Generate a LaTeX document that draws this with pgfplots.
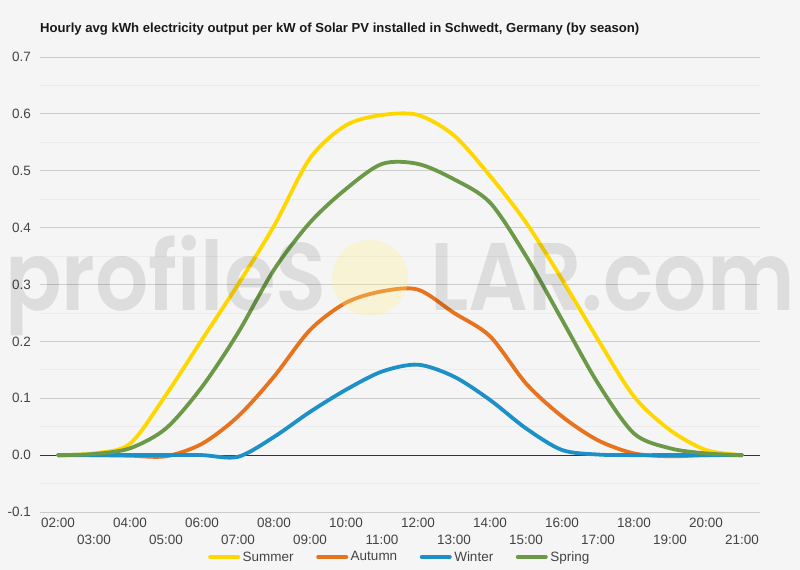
\documentclass[border=0pt]{standalone}
\usepackage{pgfplots}
\pgfplotsset{compat=1.18}
\usepackage{pgfplotstable}
\usepackage{fontspec}
\setmainfont{Liberation Sans}
\newfontfamily\wmfont{Poppins}[UprightFont=* SemiBold, FakeStretch=0.87]
\definecolor{bgc}{HTML}{F5F5F5}
\definecolor{summer}{HTML}{FFD700}
\definecolor{autumn}{HTML}{E8731E}
\definecolor{winter}{HTML}{1E90C8}
\definecolor{spring}{HTML}{6B9948}
\definecolor{txt}{HTML}{444444}
\definecolor{sun}{HTML}{FFF08A}

\pgfplotstableread{
hour summer autumn winter spring
2  0.000  0.000  0.000  0.000
3  0.003  0.000  0.000  0.002
4  0.020 -0.001  0.000  0.012
5  0.106 -0.002  0.000  0.047
6  0.203  0.020  0.000  0.120
7  0.300  0.068 -0.003  0.215
8  0.403  0.138  0.032  0.326
9  0.522  0.220  0.076  0.409
10 0.580  0.268  0.115  0.468
11 0.598  0.288  0.147  0.512
12 0.598  0.291  0.159  0.512
13 0.562  0.250  0.138  0.485
14 0.491  0.209  0.097  0.444
15 0.409  0.126  0.047  0.350
16 0.309  0.068  0.009  0.238
17 0.203  0.026  0.001  0.126
18 0.103  0.003  0.000  0.038
19 0.044 -0.002  0.000  0.012
20 0.009  0.000  0.000  0.003
21 0.000  0.000  0.000  0.000
}\datatable

\begin{document}
\begin{tikzpicture}[x=1bp,y=1bp]
\fill[bgc] (0,0) rectangle (800,570);
\node[anchor=base west, inner sep=0, text=black!90] at (40,537)
  {\fontsize{13.1bp}{16bp}\selectfont\bfseries Hourly avg kWh electricity output per kW of Solar PV installed in Schwedt, Germany (by season)};
\begin{axis}[
  at={(40bp,58bp)}, anchor=south west,
  width=720bp, height=455bp, scale only axis,
  xmin=1.5, xmax=21.5, ymin=-0.1, ymax=0.7,
  axis line style={draw=none},
  major tick length=0pt, minor tick length=0pt,
  tick style={draw=none},
  ytick={-0.1,0.1,0.2,0.3,0.4,0.5,0.6,0.7},
  yticklabels={-0.1,0.1,0.2,0.3,0.4,0.5,0.6,0.7},
  minor ytick={-0.05,0.05,0.15,0.25,0.35,0.45,0.55,0.65},
  ymajorgrids, yminorgrids,
  major grid style={color=black!20, line width=0.8bp},
  minor grid style={color=black!8, line width=0.8bp},
  extra y ticks={0},
  extra y tick labels={0.0},
  extra y tick style={ymajorgrids=true, major grid style={color=black!80, line width=1bp}},
  xtick={2,4,...,20},
  xticklabels={02:00,04:00,06:00,08:00,10:00,12:00,14:00,16:00,18:00,20:00},
  extra x ticks={3,5,...,21},
  extra x tick labels={03:00,05:00,07:00,09:00,11:00,13:00,15:00,17:00,19:00,21:00},
  extra x tick style={xticklabel style={yshift=-17bp}, xmajorgrids=false},
  xticklabel style={anchor=north, inner sep=0pt, yshift=-6bp, text=txt, font=\fontsize{13.5bp}{16bp}\selectfont},
  yticklabel style={anchor=east, inner sep=0pt, xshift=-9bp, text=txt, font=\fontsize{13.5bp}{16bp}\selectfont},
  legend columns=4,
  legend style={at={(0.5,-0.099)}, anchor=center, draw=none, fill=none,
    font=\fontsize{13.5bp}{16bp}\selectfont, text=txt,
    nodes={inner xsep=2.5bp},
    /tikz/every even column/.append style={column sep=20bp}},
  legend image code/.code={\draw[#1, line width=4bp] (0bp,0bp) -- (28bp,0bp);},
  every axis plot/.append style={line width=3.8bp, smooth, tension=0.5, line cap=round},
]
\addplot[summer] table[x=hour, y=summer] {\datatable};
\addlegendentry{Summer}
\addplot[autumn] table[x=hour, y=autumn] {\datatable};
\addlegendentry{Autumn}
\addplot[winter] table[x=hour, y=winter] {\datatable};
\addlegendentry{Winter}
\addplot[spring] table[x=hour, y=spring] {\datatable};
\addlegendentry{Spring}
\end{axis}
\fill[sun, fill opacity=0.3] (370,292) circle (38);
\node[anchor=base west, inner sep=0, text=black, text opacity=0.095] at (5,259)
  {\fontsize{96bp}{100bp}\wmfont profileS};
\node[anchor=base east, inner sep=0, text=black, text opacity=0.095] at (795,259)
  {\fontsize{96bp}{100bp}\wmfont LAR.com};
\end{tikzpicture}
\end{document}
